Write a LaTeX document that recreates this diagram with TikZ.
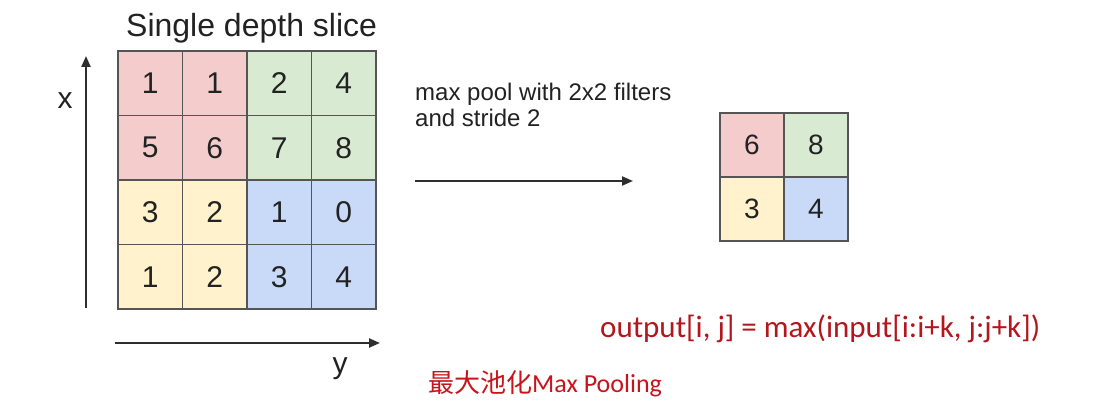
\documentclass[tikz,border=0pt]{standalone}
\usepackage{fontspec}
\setmainfont{Liberation Sans}
\newfontfamily\calib{Carlito}
\newfontfamily\cjk{Noto Sans CJK SC}
\usetikzlibrary{arrows.meta}
\definecolor{cred}{HTML}{F4CCCC}
\definecolor{cgreen}{HTML}{D9EAD3}
\definecolor{cyellow}{HTML}{FFF2CC}
\definecolor{cblue}{HTML}{C9DAF8}
\definecolor{gridline}{HTML}{555555}
\definecolor{axisline}{HTML}{2E2E2E}
\definecolor{txtred}{HTML}{B3161C}
\definecolor{txtred2}{HTML}{C8141C}
\definecolor{txtdark}{HTML}{222222}
\tikzset{
  cell/.style={draw=gridline, line width=1.6pt, minimum width=64.5pt, minimum height=64.5pt, inner sep=0pt, outer sep=0pt, font=\fontsize{30}{30}\selectfont, text=txtdark},
  ocell/.style={cell, minimum width=64pt, minimum height=64pt, font=\fontsize{28}{28}\selectfont},
  axis/.style={draw=axisline, line width=2.2pt, -{Triangle[length=11pt,width=9pt]}},
}
\begin{document}
\begin{tikzpicture}[x=1pt,y=-1pt]
\useasboundingbox[fill=white] (0,0) rectangle (1097,403);
% title
\node[anchor=base west, inner sep=0pt, font=\fontsize{32}{32}\selectfont, text=txtdark] (title) at (126,37) {Single depth slice};
% input grid
\foreach \r/\vals/\cols in {0/{1,1,2,4}/{cred,cred,cgreen,cgreen},1/{5,6,7,8}/{cred,cred,cgreen,cgreen},2/{3,2,1,0}/{cyellow,cyellow,cblue,cblue},3/{1,2,3,4}/{cyellow,cyellow,cblue,cblue}}{
  \foreach \v [count=\c from 0] in \vals {
    \pgfmathsetmacro\cx{118+32.25+64.5*\c}
    \pgfmathsetmacro\cy{51+32.25+64.5*\r}
    \foreach \col [count=\k from 0] in \cols {
      \ifnum\k=\c\relax
        \node[cell, fill=\col] (in-\r-\c) at (\cx,\cy) {\v};
      \fi
    }
  }
}
% axes
\coordinate (xa0) at (86,308);
\coordinate (xa1) at (86,56);
\draw[axis] (xa0) -- (xa1);
\node[font=\fontsize{30}{30}\selectfont, text=txtdark] (xlab) at (65,101) {x};
\coordinate (ya0) at (115,343);
\coordinate (ya1) at (380,343);
\draw[axis] (ya0) -- (ya1);
\node[font=\fontsize{30}{30}\selectfont, text=txtdark, anchor=base] (ylab) at (340,373) {y};
% middle label and arrow
\node[anchor=base west, inner sep=0pt, align=left, font=\fontsize{24}{26.5}\selectfont, text=txtdark] (lbl) at (415,127) {max pool with 2x2 filters\\and stride 2};
\coordinate (ar0) at (415,181);
\coordinate (ar1) at (633,181);
\draw[axis, line width=2pt] (ar0) -- (ar1);
% output grid
\node[ocell, fill=cred] (out-0-0) at (752,145) {6};
\node[ocell, fill=cgreen] (out-0-1) at (816,145) {8};
\node[ocell, fill=cyellow] (out-1-0) at (752,209) {3};
\node[ocell, fill=cblue] (out-1-1) at (816,209) {4};
% formula
\node[anchor=base west, inner sep=0pt, font=\calib\fontsize{31}{31}\selectfont, text=txtred] (formula) at (600,337) {output[i, j] = max(input[i:i+k, j:j+k])};
\node[anchor=base west, inner sep=0pt, font=\fontsize{26}{26}\selectfont, text=txtred2] (caption) at (428,392) {{\cjk 最大池化}{\calib Max Pooling}};
\end{tikzpicture}
\end{document}
